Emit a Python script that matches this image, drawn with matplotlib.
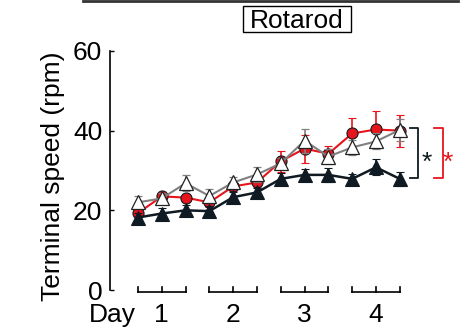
import matplotlib
matplotlib.use("Agg")
import matplotlib.pyplot as plt
from matplotlib.patches import Rectangle
from matplotlib.lines import Line2D
import numpy as np

plt.rcParams['font.family'] = ['Liberation Sans', 'DejaVu Sans']

# ---- data ----
days = ["1", "2", "3", "4"]
trials_per_day = 3
black = [18.2, 19.2, 20.0, 19.8, 23.3, 24.5, 27.9, 28.9, 28.9, 27.9, 30.8, 27.9]
black_err = [1.2, 1.5, 1.3, 1.2, 1.3, 1.2, 1.5, 1.5, 1.8, 1.3, 2.0, 1.8]
red = [19.3, 23.5, 23.2, 22.0, 26.0, 27.0, 32.3, 35.5, 34.2, 39.3, 40.3, 40.0]
red_err = [1.0, 1.2, 1.0, 1.2, 1.2, 1.2, 2.7, 3.5, 2.0, 3.8, 4.6, 4.0]
grey = [22.0, 23.0, 26.8, 23.6, 27.0, 29.0, 31.8, 37.5, 33.5, 35.8, 37.3, 40.2]
grey_err = [1.5, 1.3, 2.0, 1.8, 1.3, 1.8, 1.3, 3.0, 1.8, 1.8, 2.0, 2.8]
yticks = [0, 20, 40, 60]

RED = '#e8141c'
BLK = '#0f1a22'
GRY = '#808080'
FS = 19

x = np.arange(len(black))

fig = plt.figure(figsize=(4.64, 3.33), dpi=100)
W, H = 464, 333
ax = fig.add_axes([110 / W, (333 - 290) / H, (455 - 110) / W, (290 - 51) / H])
ax.set_xlim(-1.176, 13.32)
ax.set_ylim(0, 60)

for s in ['top', 'right', 'bottom']:
    ax.spines[s].set_visible(False)
ax.spines['left'].set_linewidth(1.2)
ax.set_xticks([])
ax.set_yticks(yticks)
ax.tick_params(axis='y', direction='in', length=2.8, width=1.0, labelsize=FS, pad=5.5)

# series
ax.errorbar(x, red, yerr=red_err, color=RED, lw=1.5, marker='o', ms=8,
            mfc=RED, mec=BLK, mew=0.8, ecolor=RED, elinewidth=1.2, capsize=3,
            capthick=1.2, zorder=3)
ax.errorbar(x, black, yerr=black_err, color=BLK, lw=1.8, marker='^', ms=10,
            mfc=BLK, mec=BLK, mew=0.8, ecolor=BLK, elinewidth=1.2, capsize=3,
            capthick=1.2, zorder=4)
ax.errorbar(x, grey, yerr=grey_err, color=GRY, lw=1.5, marker='^', ms=10,
            mfc='white', mec='#222222', mew=0.9, ecolor=GRY, elinewidth=1.2,
            capsize=3, capthick=1.2, zorder=5)

# day brackets under the axis
for d, lab in enumerate(days):
    i0 = d * trials_per_day
    i1 = i0 + trials_per_day - 1
    ax.plot([i0, i1], [-0.5, -0.5], color='black', lw=1.2, clip_on=False)
    for i in range(i0, i1 + 1):
        ax.plot([i, i], [-0.5, 0.8], color='black', lw=1.2, clip_on=False)
    ax.text((i0 + i1) / 2, -8.04, lab, ha='center', va='baseline', fontsize=FS)
ax.text(-1.09, -8.04, "Day", ha='center', va='baseline', fontsize=FS)

# significance brackets
lo = black[-1] + 0.2
hi = grey[-1] + 0.5
for (xa, xb, col, xs) in [(11.43, 11.76, BLK, 12.14), (12.44, 12.82, RED, 13.03)]:
    ax.plot([xa, xb, xb, xa], [hi, hi, lo, lo], color=col, lw=1.3, clip_on=False)
    ax.text(xs, 30.15, "*", color=col, ha='center', va='baseline', fontsize=FS)

# y label
fig.text(53 / W, (333 - 176) / H, "Terminal speed (rpm)", rotation=90,
         ha='center', va='center', fontsize=FS)

# title box
fig.add_artist(Rectangle((243 / W, 1 - 32 / H), 108 / W, 26 / H,
                         transform=fig.transFigure, fill=False, lw=1.0, ec='black'))
fig.text(297 / W, 1 - 28 / H, "Rotarod", ha='center', va='baseline', fontsize=FS)

# top border line from neighbouring panel
fig.add_artist(Line2D([83 / W, 458 / W], [1 - 1 / H, 1 - 1 / H],
                      transform=fig.transFigure, color='#333333', lw=2))

fig.savefig("out.png", dpi=100)
